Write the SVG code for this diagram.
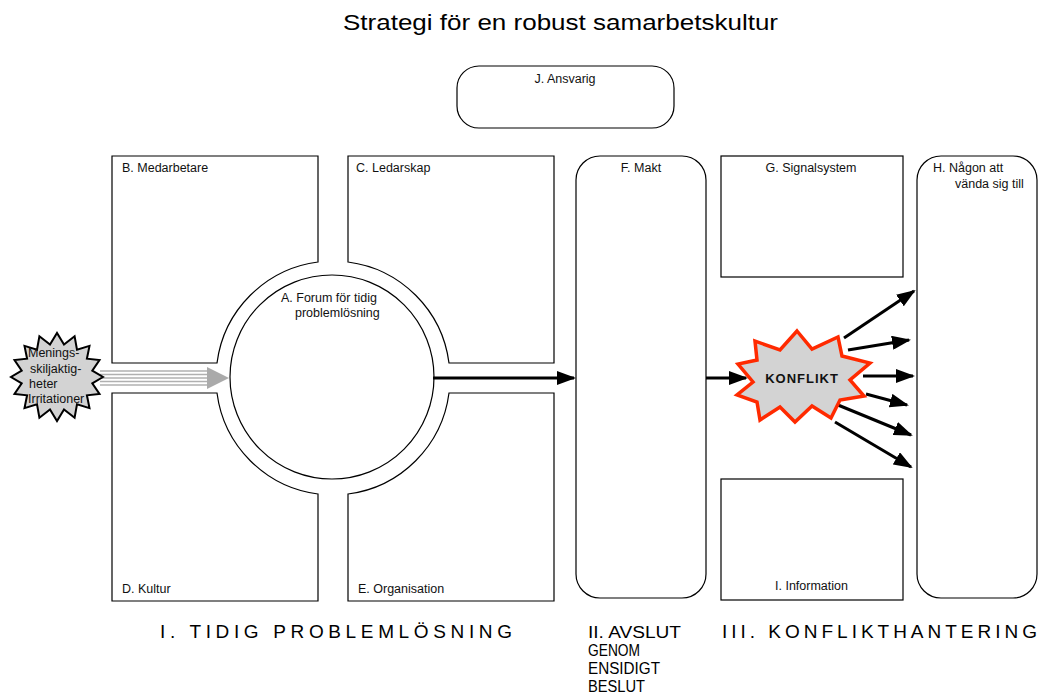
<svg xmlns="http://www.w3.org/2000/svg" width="1039" height="694" viewBox="0 0 1039 694">
<style>
.box{fill:#fff;stroke:#000;stroke-width:1.2}
.lbl{font-family:"Liberation Sans",Arial,sans-serif;font-size:12.5px;fill:#111}
.big{font-family:"Liberation Sans",Arial,sans-serif;font-size:19px;fill:#000}
.stk{font-family:"Liberation Sans",Arial,sans-serif;font-size:16px;fill:#000}
.arr{stroke:#000;stroke-width:3;fill:none;marker-end:url(#ah)}
.gl{stroke:#b0b0b0;stroke-width:1.6}
</style>
<defs>
<marker id="ah" markerUnits="userSpaceOnUse" markerWidth="20" markerHeight="14" refX="17" refY="7" orient="auto">
<path d="M0,0 L19,7 L0,14 Z" fill="#000"/>
</marker>
</defs>
<rect width="1039" height="694" fill="#fff"/>
<text x="343" y="30" font-family="Liberation Sans,Arial,sans-serif" font-size="22" textLength="435" lengthAdjust="spacingAndGlyphs" fill="#000">Strategi för en robust samarbetskultur</text>

<g id="nodeJ"><rect class="box" x="457" y="66" width="217" height="62" rx="22"/><text class="lbl" x="565" y="83" text-anchor="middle">J. Ansvarig</text></g>
<g id="nodeB"><path class="box" d="M112,156 H318 V262 A117,117 0 0 0 217,363 H112 Z"/><text class="lbl" x="122" y="172">B. Medarbetare</text></g>
<g id="nodeC"><path class="box" d="M348,156 H554 V363 H449 A117,117 0 0 0 348,262 Z"/><text class="lbl" x="356" y="172">C. Ledarskap</text></g>
<g id="nodeD"><path class="box" d="M112,393 H217 A117,117 0 0 0 318,494 V601 H112 Z"/><text class="lbl" x="122" y="593">D. Kultur</text></g>
<g id="nodeE"><path class="box" d="M449,393 H554 V601 H348 V494 A117,117 0 0 0 449,393 Z"/><text class="lbl" x="358" y="593">E. Organisation</text></g>
<g id="nodeA"><circle class="box" cx="332" cy="377" r="102"/><text class="lbl" x="281" y="302">A. Forum för tidig</text><text class="lbl" x="295" y="317">problemlösning</text></g>
<g id="nodeF"><rect class="box" x="576" y="156" width="130" height="442" rx="24"/><text class="lbl" x="641" y="172" text-anchor="middle">F. Makt</text></g>
<g id="nodeG"><rect class="box" x="721" y="156" width="182" height="121"/><text class="lbl" x="811" y="172" text-anchor="middle">G. Signalsystem</text></g>
<g id="nodeI"><rect class="box" x="721" y="479" width="182" height="121"/><text class="lbl" x="775" y="590">I. Information</text></g>
<g id="nodeH"><rect class="box" x="917" y="156" width="120" height="442" rx="24"/><text class="lbl" x="933" y="172">H. Någon att</text><text class="lbl" x="955" y="188">vända sig till</text></g>

<g id="connectors">
<line class="gl" x1="100" y1="371" x2="210" y2="371"/>
<line class="gl" x1="100" y1="374.5" x2="210" y2="374.5"/>
<line class="gl" x1="100" y1="378" x2="210" y2="378"/>
<line class="gl" x1="100" y1="381.5" x2="210" y2="381.5"/>
<line class="gl" x1="100" y1="385" x2="210" y2="385"/>
<polygon points="207,367 229,378 207,389" fill="#aaaaaa"/>
<line class="arr" x1="433" y1="378" x2="574" y2="378"/>
<line class="arr" x1="706" y1="378" x2="746" y2="378"/>
<line class="arr" x1="844" y1="338" x2="914" y2="291"/>
<line class="arr" x1="848" y1="350" x2="909" y2="340"/>
<line class="arr" x1="863" y1="376" x2="913" y2="376"/>
<line class="arr" x1="866" y1="394" x2="907" y2="405"/>
<line class="arr" x1="838" y1="405" x2="911" y2="435"/>
<line class="arr" x1="835" y1="422" x2="911" y2="467"/>
</g>

<g id="nodeMeningar">
<polygon points="103,377 92.3,383.4 99.5,393.9 86.9,395.3 89.5,408.1 77,404.4 74.6,417.7 64,409.4 57,421 50,409.4 39.4,417.7 37,404.4 24.5,408.1 27.1,395.3 14.5,393.9 21.7,383.4 11,377 21.7,370.6 14.5,360.1 27.1,358.7 24.5,345.9 37,349.6 39.4,336.3 50,344.6 57,333 64,344.6 74.6,336.3 77,349.6 89.5,345.9 86.9,358.7 99.5,360.1 92.3,370.6" fill="#d3d3d3" stroke="#000" stroke-width="2"/>
<text class="lbl" x="28" y="357">Menings-</text>
<text class="lbl" x="30" y="373">skiljaktig-</text>
<text class="lbl" x="29" y="388">heter</text>
<text class="lbl" x="28" y="403">Irritationer</text>
</g>

<g id="nodeKonflikt">
<polygon points="797,331 812,349 838,337 842,356 870,363 850,380 864,396 840,400 831,418 812,406 795,422 780,407 760,420 757,402 737,395 753,382 738,364 757,360 755,341 780,350" fill="#d3d3d3" stroke="#ff2a00" stroke-width="3.5" stroke-linejoin="miter"/>
<text x="802" y="383" text-anchor="middle" font-family="Liberation Sans,Arial,sans-serif" font-size="13" font-weight="bold" letter-spacing="1" fill="#111">KONFLIKT</text>
</g>

<g id="labels">
<text class="big" x="160" y="638" textLength="352" lengthAdjust="spacing">I. TIDIG PROBLEMLÖSNING</text>
<text class="stk" x="588" y="638" textLength="93" lengthAdjust="spacingAndGlyphs">II. AVSLUT</text>
<text class="stk" x="588" y="656" textLength="52" lengthAdjust="spacingAndGlyphs">GENOM</text>
<text class="stk" x="588" y="674" textLength="72" lengthAdjust="spacingAndGlyphs">ENSIDIGT</text>
<text class="stk" x="588" y="692" textLength="57" lengthAdjust="spacingAndGlyphs">BESLUT</text>
<text class="big" x="722" y="638" textLength="315" lengthAdjust="spacing">III. KONFLIKTHANTERING</text>
</g>
</svg>
